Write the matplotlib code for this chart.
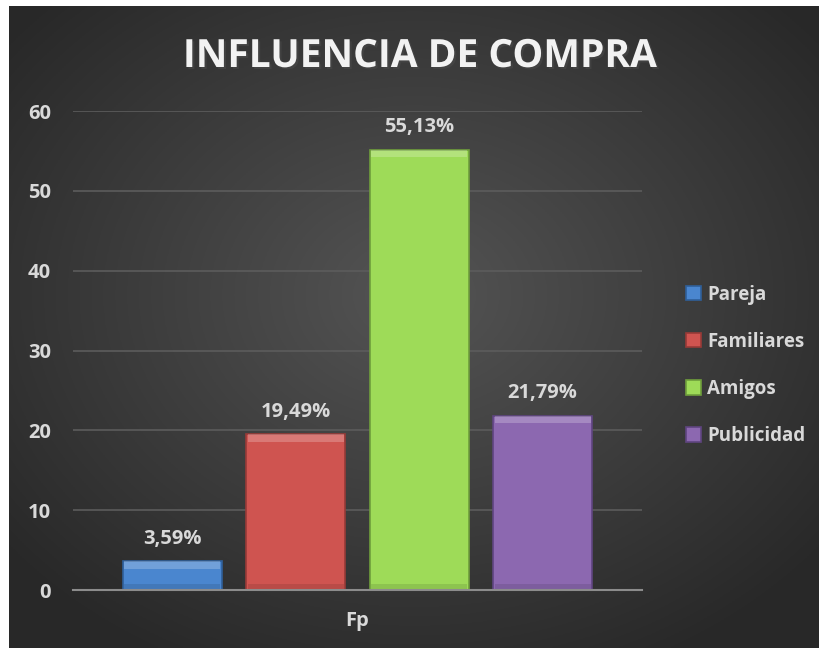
import numpy as np
import matplotlib.pyplot as plt
import matplotlib.patheffects as pe

categories = ['Fp']
series = ['Pareja', 'Familiares', 'Amigos', 'Publicidad']
values = [3.59, 19.49, 55.13, 21.79]
labels = ['3,59%', '19,49%', '55,13%', '21,79%']
colors = ['#4a86cf', '#cf5450', '#9edb58', '#8c68b0']
edges = ['#2f5f99', '#983a37', '#6f9e3c', '#5f4580']
yticks = [0, 10, 20, 30, 40, 50, 60]

plt.rcParams['font.family'] = ['Open Sans', 'DejaVu Sans']
plt.rcParams['font.weight'] = 'bold'
txt = '#d9d9d9'

fig = plt.figure(figsize=(8.2, 6.48), dpi=100)
fig.patch.set_facecolor('white')

# radial gradient backdrop
bg = fig.add_axes([9 / 820, 0, 1 - 9 / 820, 1 - 6 / 648])
yy, xx = np.mgrid[0:1:300j, 0:1:380j]
r = np.sqrt(((xx - 0.5) / 0.75) ** 2 + ((yy - 0.45) / 0.75) ** 2)
shade = np.clip(0.33 - 0.2 * r, 0.16, 0.33)
bg.imshow(np.dstack([shade] * 3), aspect='auto', extent=[0, 1, 0, 1])
bg.axis('off')

ax = fig.add_axes([73 / 820, 58 / 648, 569 / 820, 479 / 648])
ax.set_facecolor('none')

w = 0.174
step = 0.217
x = np.arange(len(categories))
for i, (s, v) in enumerate(zip(series, values)):
    off = (i - 1.5) * step
    ax.bar(x + off, v, width=w, color=colors[i], edgecolor=edges[i],
           linewidth=1.2, label=s, zorder=3)
    # top bevel highlight
    ax.bar(x + off, 0.9, bottom=v - 0.9, width=w * 0.97, color='white',
           alpha=0.22, linewidth=0, zorder=4)
    # darker base shade
    ax.bar(x + off, min(v, 0.8), width=w * 0.97, color='black',
           alpha=0.1, linewidth=0, zorder=4)
    ax.text(x[0] + off, v + 1.6, labels[i], ha='center', va='bottom',
            color=txt, fontsize=14.5, fontweight='bold')

ax.set_xlim(-0.5, 0.5)
ax.set_ylim(0, 60)
ax.set_yticks(yticks)
ax.set_xticks(x)
ax.set_xticklabels(categories)
ax.grid(axis='y', color='#5c5c5c', linewidth=1.2, zorder=0)
for sp in ['top', 'right', 'left']:
    ax.spines[sp].set_visible(False)
ax.spines['bottom'].set_color('#8c8c8c')
ax.spines['bottom'].set_linewidth(1.5)
ax.spines['bottom'].set_zorder(5)
ax.tick_params(length=0, colors=txt, labelsize=14.5)
ax.tick_params(axis='y', pad=16)
ax.tick_params(axis='x', pad=15)
for t in ax.get_xticklabels() + ax.get_yticklabels():
    t.set_fontweight('bold')

fig.text(0.512, 1 - 67 / 648, 'INFLUENCIA DE COMPRA', ha='center', va='baseline',
         color='#f2f2f2', fontsize=28, fontweight='bold',
         path_effects=[pe.withSimplePatchShadow(offset=(1.5, -1.5), alpha=0.6)])

leg = ax.legend(loc='center left', frameon=False, borderaxespad=0,
                borderpad=0, labelcolor=txt, fontsize=13.5, handlelength=0.8,
                handleheight=0.8, handletextpad=0.35, labelspacing=1.45)
leg.set_bbox_to_anchor((1.077, 0.469), transform=ax.transAxes)
for t in leg.get_texts():
    t.set_fontweight('bold')

fig.savefig('out.png', dpi=100, facecolor=fig.get_facecolor())
